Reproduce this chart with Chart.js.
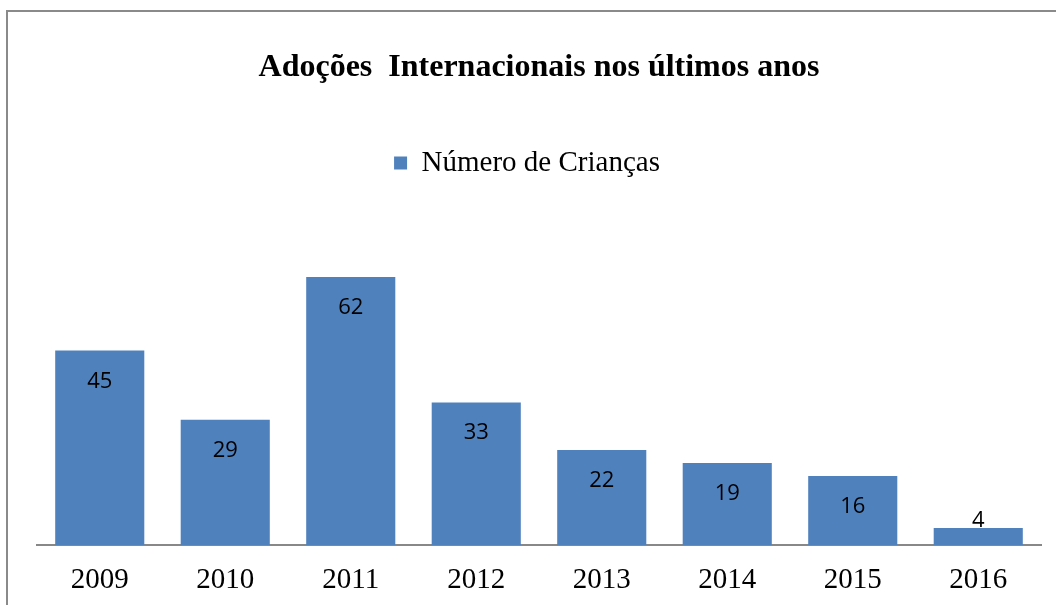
<!DOCTYPE html>
<html>
<head>
<meta charset="utf-8">
<script src="https://cdn.jsdelivr.net/npm/chart.js@4/dist/chart.umd.min.js"></script>
<style>
  html, body { margin: 0; padding: 0; background: #fff; overflow: hidden; }
  .frame { position: absolute; left: 6px; top: 10px; width: 2000px; height: 2000px; border: 2px solid #8a8a8a; }
  #chart { position: absolute; left: 0; top: 0; }
</style>
</head>
<body>
<div class="frame"></div>
<canvas id="chart" width="1056" height="605"></canvas>
<script>
// data
var years = ['2009', '2010', '2011', '2012', '2013', '2014', '2015', '2016'];
var criancas = [45, 29, 62, 33, 22, 19, 16, 4];
var seriesName = 'Número de Crianças';
var chartTitle = 'Adoções  Internacionais nos últimos anos';

// value labels: inside the bar near the top, above it when the bar is short
var barLabels = {
  id: 'barLabels',
  afterDatasetsDraw: function(chart) {
    var ctx = chart.ctx;
    var meta = chart.getDatasetMeta(0);
    ctx.save();
    ctx.font = '22px "Open Sans"';
    ctx.fillStyle = '#000';
    ctx.textAlign = 'center';
    ctx.textBaseline = 'alphabetic';
    meta.data.forEach(function(bar, i) {
      var h = bar.base - bar.y;
      var cy = h > 40 ? bar.y + 29 : bar.y - 9;
      ctx.fillText(String(criancas[i]), bar.x, cy + 8);
    });
    ctx.restore();
  }
};

// the legend sits a little left of centre in the original
var legendShift = {
  id: 'legendShift',
  afterLayout: function(chart) {
    chart.legend.left -= 12;
    chart.legend.right -= 12;
  }
};

new Chart(document.getElementById('chart'), {
  type: 'bar',
  data: {
    labels: years,
    datasets: [{
      label: seriesName,
      data: criancas,
      backgroundColor: '#4F81BD',
      categoryPercentage: 1,
      barPercentage: 0.71
    }]
  },
  options: {
    responsive: false,
    animation: false,
    layout: { padding: { top: 0, left: 37, right: 15, bottom: -11 } },
    plugins: {
      title: {
        display: true,
        text: chartTitle,
        color: '#000',
        font: { family: '"Liberation Serif"', size: 32, weight: 'bold', lineHeight: 1.2 },
        padding: { top: 49, bottom: 51 }
      },
      legend: {
        display: true,
        labels: {
          color: '#000',
          font: { family: '"Liberation Serif"', size: 29 },
          boxWidth: 13,
          boxHeight: 13,
          padding: 10
        }
      },
      tooltip: { enabled: false }
    },
    scales: {
      x: {
        grid: { display: false, drawTicks: false },
        border: { display: true, color: '#888', width: 2 },
        ticks: { color: '#000', padding: 18, font: { family: '"Liberation Serif"', size: 29 } }
      },
      y: {
        display: false,
        min: 0,
        max: 82.7
      }
    }
  },
  plugins: [barLabels, legendShift]
});
</script>
</body>
</html>
